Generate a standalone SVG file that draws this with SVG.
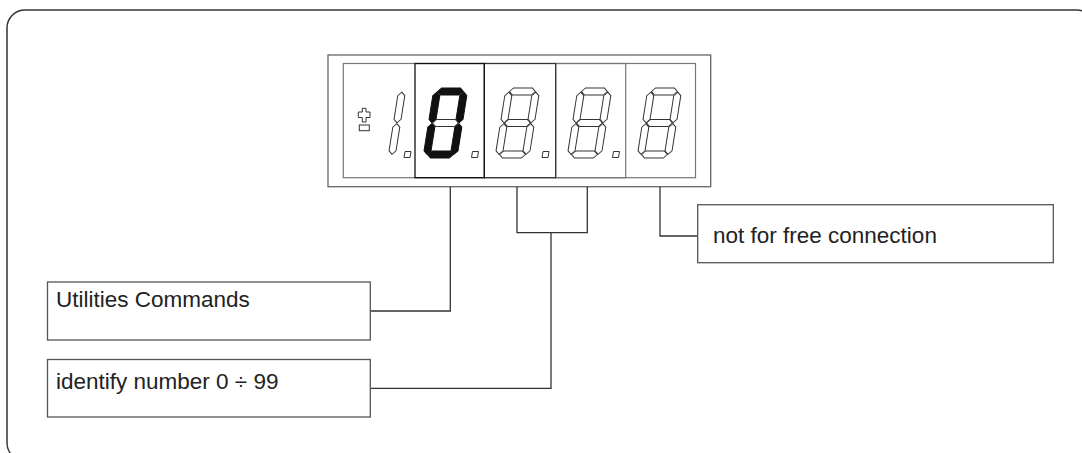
<svg xmlns="http://www.w3.org/2000/svg" xmlns:xlink="http://www.w3.org/1999/xlink" width="1082" height="453" viewBox="0 0 1082 453">
<style>
.frame{fill:none;stroke:#333;stroke-width:1.5}
.box{fill:#fff;stroke:#555;stroke-width:1.3}
.conn{fill:none;stroke:#333;stroke-width:1.3}
.lbl{font-family:"Liberation Sans",Arial,sans-serif;font-size:22.5px;fill:#222}
.seg{fill:#fff;stroke:#333;stroke-width:1}
.on{fill:#111;stroke:#111;stroke-width:1}
.dp{fill:#fff;stroke:#333;stroke-width:1}
.cellg{fill:none;stroke:#777;stroke-width:1.2}
</style>
<defs>
<polygon id="sA" points="4.1,3.5 7.6,0 26.4,0 29.9,3.5 26.4,7 7.6,7"/>
<polygon id="sG" points="4.1,35 7.6,31.5 26.4,31.5 29.9,35 26.4,38.5 7.6,38.5"/>
<polygon id="sD" points="4.1,66.5 7.6,63 26.4,63 29.9,66.5 26.4,70 7.6,70"/>
<polygon id="sF" points="3.5,4.1 7,7.6 7,31.4 3.5,34.9 0,31.4 0,7.6"/>
<polygon id="sB" points="30.5,4.1 34,7.6 34,31.4 30.5,34.9 27,31.4 27,7.6"/>
<polygon id="sE" points="3.5,35.6 7,39.1 7,62.9 3.5,66.4 0,62.9 0,39.1"/>
<polygon id="sC" points="30.5,35.6 34,39.1 34,62.9 30.5,66.4 27,62.9 27,39.1"/>
<g id="digit8" class="seg">
<use xlink:href="#sA"/><use xlink:href="#sG"/><use xlink:href="#sD"/>
<use xlink:href="#sF"/><use xlink:href="#sB"/><use xlink:href="#sE"/><use xlink:href="#sC"/>
</g>
<polygon id="dpt" points="1,0 7,0 6,6 0,6"/>
</defs>

<path class="frame" d="M7,28 A18,18 0 0 1 25,10 H1077 A18,18 0 0 1 1095,28 V443 A18,18 0 0 1 1077,461 H25 A18,18 0 0 1 7,443 Z"/>

<g id="display">
<rect x="328" y="55" width="382.7" height="131.7" fill="#fff" stroke="#666" stroke-width="1.3"/>
<rect x="343.3" y="63.5" width="352.2" height="114.2" fill="none" stroke="#777" stroke-width="1.2"/>
<rect class="cellg" x="555.7" y="63.5" width="70" height="114.2"/>
<rect x="484.3" y="63.5" width="71.4" height="114.2" fill="none" stroke="#333" stroke-width="1.2"/>
<rect x="415" y="63.5" width="69.3" height="114.2" fill="none" stroke="#111" stroke-width="1.3"/>

<!-- sign -->
<polygon class="seg" points="362.3,108.3 366,108.3 366,112 370,112 370,117.5 366,117.5 366,122 362.3,122 362.3,117.5 358.3,117.5 358.3,112 362.3,112"/>
<rect class="seg" x="359.3" y="125" width="10" height="5.7"/>
<!-- leading 1 -->
<g class="seg" transform="translate(372,88) skewX(-9)">
<use xlink:href="#sB"/><use xlink:href="#sC"/>
</g>
<!-- bold 0 -->
<g transform="translate(434,88) skewX(-9)">
<g class="on"><use xlink:href="#sA"/><use xlink:href="#sD"/><use xlink:href="#sF"/><use xlink:href="#sB"/><use xlink:href="#sE"/><use xlink:href="#sC"/></g>
<use class="seg" xlink:href="#sG"/>
</g>
<use xlink:href="#digit8" transform="translate(506,88) skewX(-9)"/>
<use xlink:href="#digit8" transform="translate(578,88) skewX(-9)"/>
<use xlink:href="#digit8" transform="translate(648,88) skewX(-9)"/>
<!-- decimal points -->
<use class="dp" xlink:href="#dpt" x="404" y="151.5"/>
<use class="dp" xlink:href="#dpt" x="471.5" y="151.5"/>
<use class="dp" xlink:href="#dpt" x="542" y="151.5"/>
<use class="dp" xlink:href="#dpt" x="612.5" y="151.5"/>
</g>

<g id="connectors">
<polyline class="conn" points="370.3,311 450.3,311 450.3,186.7"/>
<polyline class="conn" points="517,186.7 517,232.7 587.3,232.7 587.3,186.7"/>
<polyline class="conn" points="551,232.7 551,388.3 370.3,388.3"/>
<polyline class="conn" points="660,186.7 660,236 697.7,236"/>
</g>

<g id="utilities">
<rect class="box" x="47.5" y="282" width="322.8" height="58"/>
<text class="lbl" x="56" y="307">Utilities Commands</text>
</g>
<g id="identify">
<rect class="box" x="47.5" y="359.5" width="322.8" height="57.5"/>
<text class="lbl" x="56" y="389">identify number 0 ÷ 99</text>
</g>
<g id="notfree">
<rect class="box" x="697.7" y="204.7" width="355.6" height="58"/>
<text class="lbl" x="713" y="243.3">not for free connection</text>
</g>
</svg>
